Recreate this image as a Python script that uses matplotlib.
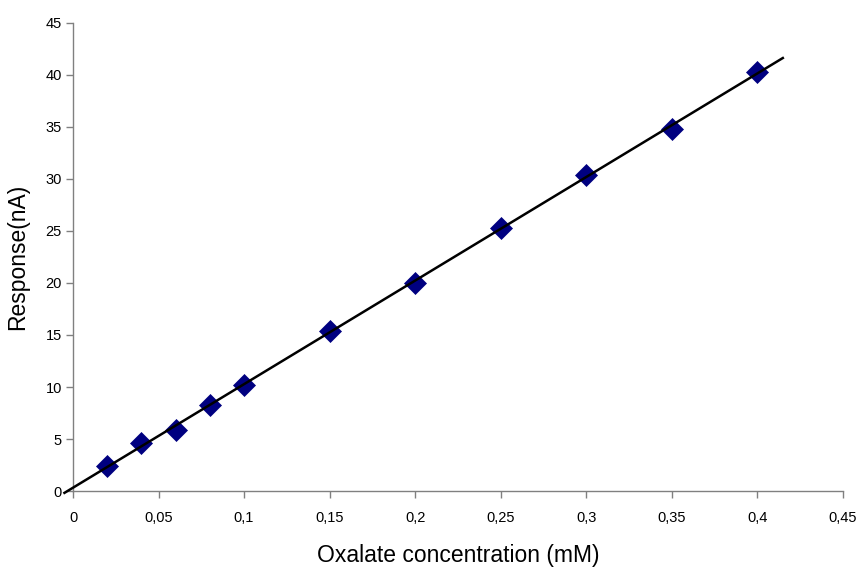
import numpy as np
import matplotlib
matplotlib.use("Agg")
import matplotlib.pyplot as plt
from matplotlib.ticker import FuncFormatter

plt.rcParams['font.family'] = ['Liberation Sans', 'DejaVu Sans']

# oxalate concentration (mM) and measured response (nA)
conc = [0.02, 0.04, 0.06, 0.08, 0.1, 0.15, 0.2, 0.25, 0.3, 0.35, 0.4]
response = [2.4, 4.6, 5.9, 8.3, 10.2, 15.4, 20.0, 25.3, 30.4, 34.8, 40.3]

x_ticks = [0, 0.05, 0.1, 0.15, 0.2, 0.25, 0.3, 0.35, 0.4, 0.45]
y_ticks = list(range(0, 50, 5))

# linear trendline through the points
slope, intercept = np.polyfit(conc, response, 1)
fit_x = np.array([-0.005, 0.415])
fit_y = slope * fit_x + intercept

fig = plt.figure(figsize=(8.59, 5.71), dpi=100)
ax = fig.add_axes([0.085, 0.140, 0.896, 0.820])

ax.plot(conc, response, linestyle='none', marker='D', markersize=11,
        color='#000080', markeredgecolor='#000080', markeredgewidth=0.5,
        zorder=3)
ax.plot(fit_x, fit_y, color='black', linewidth=1.8, zorder=4, clip_on=False)

ax.set_xlim(0, 0.45)
ax.set_ylim(0, 45)
ax.set_xticks(x_ticks)
ax.set_yticks(y_ticks)

def comma_fmt(v, pos):
    s = f"{v:.2f}".rstrip('0').rstrip('.')
    return s.replace('.', ',')

ax.xaxis.set_major_formatter(FuncFormatter(comma_fmt))

for side in ('top', 'right'):
    ax.spines[side].set_visible(False)
for side in ('left', 'bottom'):
    ax.spines[side].set_color('#808080')
    ax.spines[side].set_linewidth(1.0)

ax.tick_params(axis='both', direction='out', length=5, width=1.0,
               color='#808080', labelsize=10.5, labelcolor='black')
ax.tick_params(axis='x', pad=9)
ax.tick_params(axis='y', pad=3)

ax.set_xlabel('Oxalate concentration (mM)', fontsize=16.5, labelpad=14)
ax.set_ylabel('Response(nA)', fontsize=16.5, labelpad=12)

fig.savefig('out.png', dpi=100)
